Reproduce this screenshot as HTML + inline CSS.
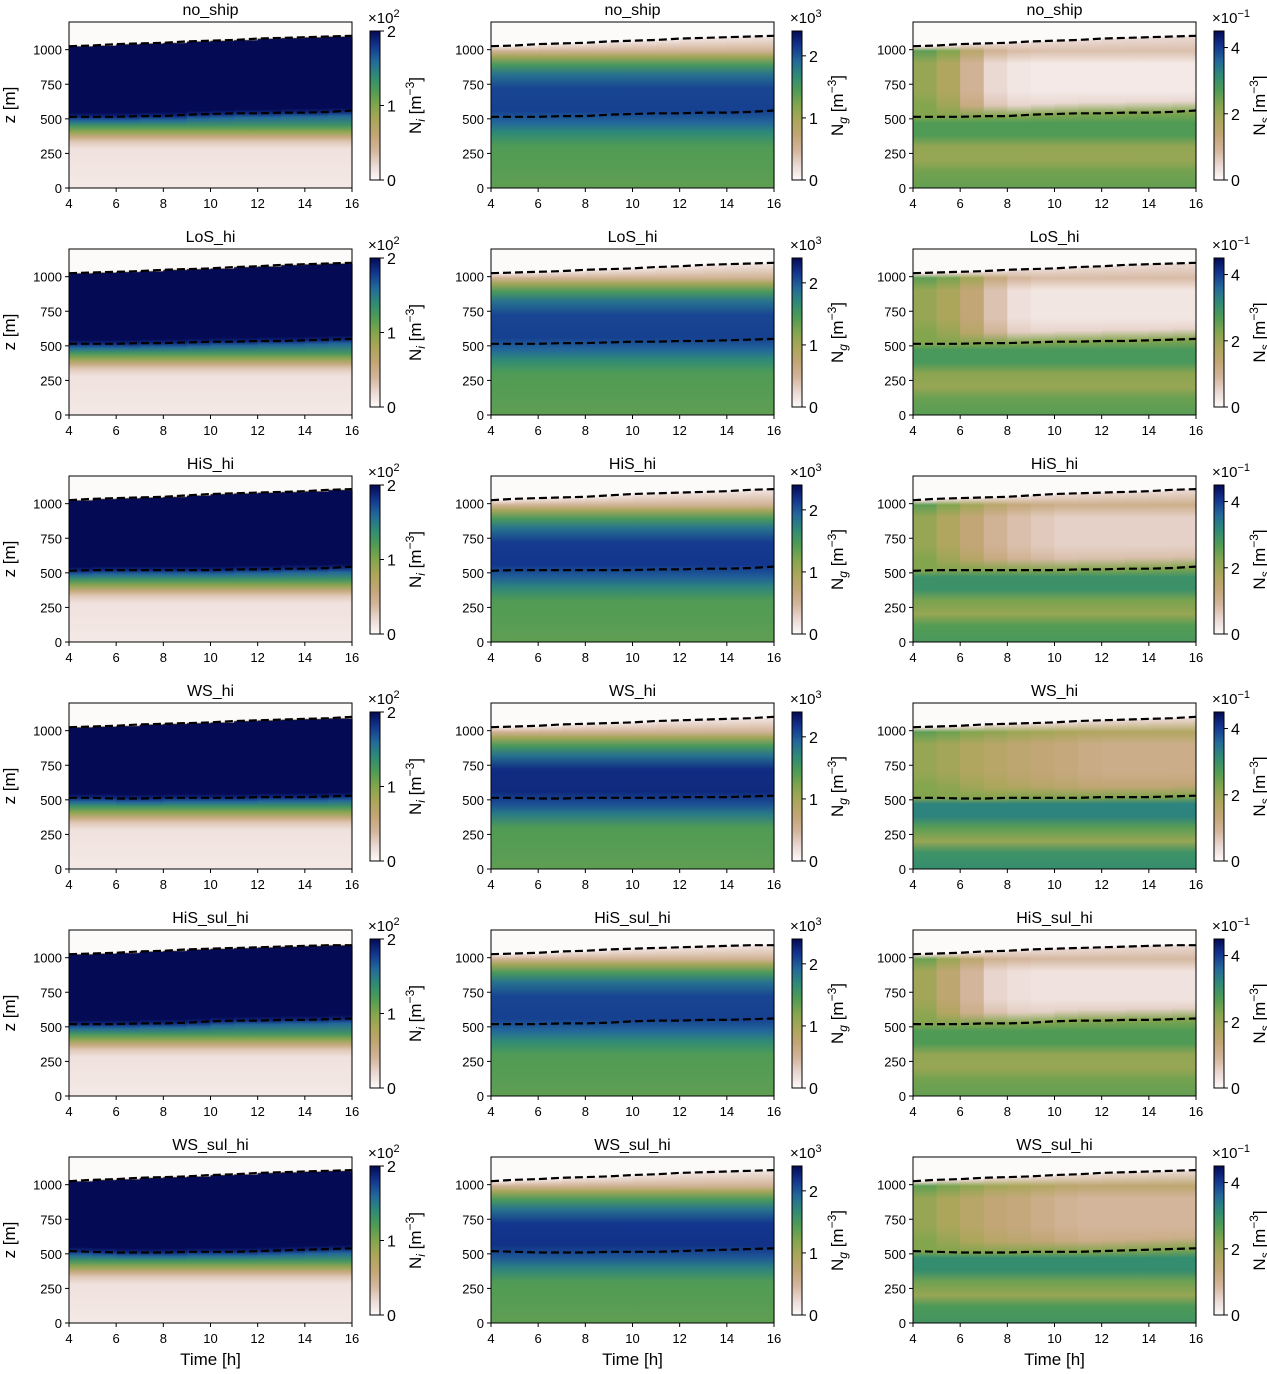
<!DOCTYPE html>
<html><head><meta charset="utf-8"><style>
body{margin:0;background:#fff;}
svg text{font-family:"Liberation Sans","DejaVu Sans",sans-serif;fill:#000;}
</style></head><body>
<svg id="fig" xmlns="http://www.w3.org/2000/svg" width="1267" height="1369" viewBox="0 0 1267 1369"><defs id="defs"></defs></svg>
<script>
const rowNames=['no_ship','LoS_hi','HiS_hi','WS_hi','HiS_sul_hi','WS_sul_hi'];
const hours=[4,5,6,7,8,9,10,11,12,13,14,15,16];
const xTicks=[4,6,8,10,12,14,16];
const yTicks=[0,250,500,750,1000];
const topNoShip=[1025,1030,1040,1045,1050,1060,1065,1070,1080,1085,1090,1095,1100];
const topLoS=[1025,1030,1035,1040,1050,1055,1060,1070,1075,1085,1090,1095,1100];
const topHiS=[1025,1035,1040,1045,1050,1060,1070,1075,1080,1085,1090,1100,1105];
const topWS=[1025,1030,1035,1045,1050,1055,1060,1070,1075,1080,1085,1090,1100];
const topHiSsul=[1025,1030,1035,1045,1050,1060,1065,1070,1075,1080,1085,1090,1090];
const topWSsul=[1025,1035,1040,1050,1055,1060,1070,1075,1085,1090,1095,1100,1105];
const baseNoShip=[515,515,515,520,520,530,535,540,540,545,545,550,560];
const baseLoS=[515,515,515,520,520,525,530,530,535,535,540,545,550];
const baseHiS=[515,520,520,520,520,520,520,525,525,530,530,535,545];
const baseWS=[515,515,510,510,515,515,515,515,520,520,520,525,530];
const baseHiSsul=[520,520,520,525,525,530,540,545,545,550,550,555,560];
const baseWSsul=[520,515,510,510,510,515,515,515,520,525,530,535,540];
const upperNoShip=[0.45,0.38,0.22,0.1,0.06,0.05,0.05,0.05,0.05,0.05,0.05,0.05,0.06];
const upperLoS=[0.45,0.4,0.3,0.16,0.08,0.06,0.06,0.06,0.06,0.06,0.06,0.06,0.06];
const upperHiS=[0.45,0.38,0.3,0.22,0.17,0.14,0.12,0.12,0.12,0.12,0.12,0.12,0.14];
const upperWS=[0.45,0.42,0.38,0.35,0.32,0.3,0.28,0.26,0.25,0.25,0.25,0.25,0.25];
const upperHiSsul=[0.42,0.32,0.2,0.11,0.08,0.07,0.07,0.07,0.07,0.07,0.07,0.07,0.08];
const upperWSsul=[0.45,0.4,0.35,0.3,0.28,0.25,0.22,0.2,0.2,0.2,0.2,0.2,0.22];
const ngBoost=[0,0,0.02,0.05,0,0.03];
const nsBoost=[0,0.02,0.06,0.12,0,0.08];
const tops=[topNoShip,topLoS,topHiS,topWS,topHiSsul,topWSsul];
const bases=[baseNoShip,baseLoS,baseHiS,baseWS,baseHiSsul,baseWSsul];
const uppers=[upperNoShip,upperLoS,upperHiS,upperWS,upperHiSsul,upperWSsul];
const cbTicks=[[0,1,2],[0,1,2],[0,2,4]];
const cbRange=[2,2.4,4.5];
const cbExp=['2','3','−1'];
const cbSym=['i','g','s'];

const cmap=[[0,'#fdfafa'],[0.1,'#ead8d2'],[0.2,'#d3b59b'],[0.3,'#c2a676'],[0.4,'#aba65a'],[0.5,'#83a54e'],[0.6,'#4f9b55'],[0.7,'#2f8a76'],[0.8,'#23689a'],[0.9,'#13368e'],[1,'#050a55']];
function hex(c){return [1,3,5].map(i=>parseInt(c.substr(i,2),16));}
function color(v){v=Math.max(0,Math.min(1,v));for(let i=1;i<cmap.length;i++){if(v<=cmap[i][0]){const a=cmap[i-1],b=cmap[i];const t=(v-a[0])/(b[0]-a[0]);const ca=hex(a[1]),cb=hex(b[1]);return 'rgb('+ca.map((x,k)=>Math.round(x+(cb[k]-x)*t)).join(',')+')';}}return cmap[cmap.length-1][1];}

const NS='http://www.w3.org/2000/svg';
const svg=document.getElementById('fig');const defs=document.getElementById('defs');
function el(tag,attrs,parent){const e=document.createElementNS(NS,tag);for(const k in attrs)e.setAttribute(k,attrs[k]);(parent||svg).appendChild(e);return e;}
const colL=[69,491,913],W=283,H=166;
function rowTop(r){return 22+227*r;}
function xs(c,t){return colL[c]+(t-4)/12*W;}
function ys(r,z){return rowTop(r)+H*(1-z/1200);}

function profile(c,r,h){
  const zi=tops[r][h],zb=bases[r][h];
  if(c===0)return [[0,0.05],[280,0.07],[330,0.14],[370,0.28],[410,0.48],[450,0.64],[zb-30,0.8],[zb,0.93],[zb+30,1],[zi-5,1],[zi,0.3],[zi+5,0],[1200,0]];
  if(c===1){const b=ngBoost[r];return [[0,0.57],[300,0.6],[400,0.7+b],[470,0.8+b],[560,0.88+b],[720,0.87+b],[820,0.77],[890,0.62],[950,0.42],[990,0.22],[zi-5,0.07],[zi+5,0],[1200,0]];}
  const U=uppers[r][h],b=nsBoost[r];
  return [[0,0.56+b],[120,0.53+b],[200,0.45],[300,0.46+b],[380,0.6+b],[470,0.6+b],[zb,0.5],[zb+80,U+0.05],[700,U],[900,U],[990,U+0.12],[zi-5,0.1],[zi+5,0],[1200,0]];
}
let gid=0;
for(let r=0;r<6;r++){
  for(let c=0;c<3;c++){
    const g=el('g',{});
    
    
    for(let h=0;h<hours.length-1;h++){
      const id='g'+(gid++);
      const lg=el('linearGradient',{id:id,x1:0,y1:1,x2:0,y2:0},defs);
      const p=profile(c,r,h);
      p.forEach(s=>el('stop',{offset:(s[0]/1200).toFixed(4),'stop-color':color(s[1])},lg));
      const x0=xs(c,hours[h]),x1=xs(c,hours[h+1]);
      const rc=el('rect',{x:x0.toFixed(2),y:rowTop(r),width:(x1-x0+0.6).toFixed(2),height:H,fill:'url(#'+id+')'},g);
      
      
    }
    [tops[r],bases[r]].forEach((arr,k)=>{
      const pts=hours.map((t,i)=>xs(c,t).toFixed(1)+','+ys(r,arr[i]).toFixed(1)).join(' ');
      const pl=el('polyline',{points:pts,fill:'none',stroke:'#000','stroke-width':2.2,'stroke-dasharray':'8,4'},g);
      
      
    });
    const fr=el('rect',{x:colL[c],y:rowTop(r),width:W,height:H,fill:'none',stroke:'#000','stroke-width':1},g);
    
    
    const tt=el('text',{x:colL[c]+W/2,y:rowTop(r)-7,'text-anchor':'middle','font-size':16},g);
    tt.textContent=rowNames[r];
    
    
    xTicks.forEach(t=>{
      const x=xs(c,t);
      el('line',{x1:x,x2:x,y1:rowTop(r)+H,y2:rowTop(r)+H+4,stroke:'#000'},g);
      const tx=el('text',{x:x,y:rowTop(r)+H+20,'text-anchor':'middle','font-size':13},g);
      tx.textContent=t;
      
      
    });
    yTicks.forEach(z=>{
      const y=ys(r,z);
      el('line',{x1:colL[c]-4,x2:colL[c],y1:y,y2:y,stroke:'#000'},g);
      const ty=el('text',{x:colL[c]-7,y:y+5,'text-anchor':'end','font-size':13},g);
      ty.textContent=z;
      
      
    });
    const cx=colL[c]+301,cy0=rowTop(r)+9,cy1=rowTop(r)+158;
    const cid='cb'+(gid++);
    const lg=el('linearGradient',{id:cid,x1:0,y1:1,x2:0,y2:0},defs);
    cmap.forEach(s=>el('stop',{offset:s[0],'stop-color':s[1]},lg));
    const cb=el('rect',{x:cx,y:cy0,width:10,height:cy1-cy0,fill:'url(#'+cid+')',stroke:'#000','stroke-width':1},g);
    
    
    cbTicks[c].forEach(v=>{
      const y=cy1-(v/cbRange[c])*(cy1-cy0);
      el('line',{x1:cx+10,x2:cx+14,y1:y,y2:y,stroke:'#000'},g);
      const t=el('text',{x:cx+17,y:y+6,'font-size':16},g);
      t.textContent=v;
      
      
    });
    const ex=el('text',{x:cx-2,y:rowTop(r)+1,'font-size':15},g);
    ex.innerHTML='×10<tspan dy="-6" font-size="11">'+cbExp[c]+'</tspan>';
    
    
    const lx=cx+51,ly=(cy0+cy1)/2;
    const cl=el('text',{x:lx,y:ly,'text-anchor':'middle','font-size':17,transform:'rotate(-90 '+lx+' '+ly+')'},g);
    cl.innerHTML='N<tspan dy="4" font-size="12" font-style="italic">'+cbSym[c]+'</tspan><tspan dy="-4"> [m</tspan><tspan dy="-7" font-size="12">−3</tspan><tspan dy="7">]</tspan>';
    
    
    if(c===0){
      const yx=15,yy=rowTop(r)+H/2;
      const yl=el('text',{x:yx,y:yy,'text-anchor':'middle','font-size':17,transform:'rotate(-90 '+yx+' '+yy+')'},g);
      yl.textContent='z [m]';
      
      
    }
    if(r===5){
      const xl=el('text',{x:colL[c]+W/2,y:1365,'text-anchor':'middle','font-size':17},g);
      xl.textContent='Time [h]';
      
      
    }
  }
}
</script>
</body></html>
